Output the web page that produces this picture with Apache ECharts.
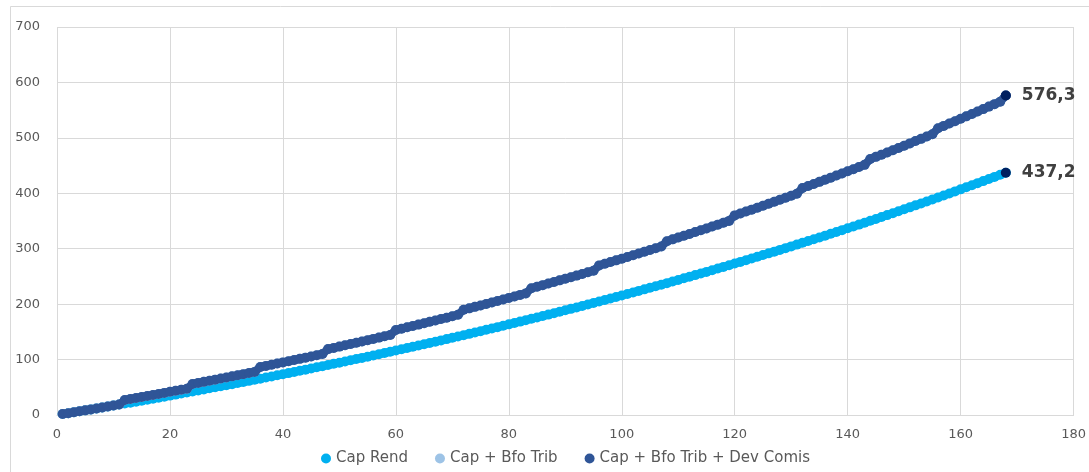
<!DOCTYPE html>
<html>
<head>
<meta charset="utf-8">
<script src="https://cdn.jsdelivr.net/npm/echarts@6/dist/echarts.min.js"></script>
<style>html,body{margin:0;padding:0;background:#fff}#c{width:1089px;height:472px}</style>
</head>
<body>
<div id="c"></div>
<script>
// month index (x)
const months = Array.from({length: 168}, (_, i) => i + 1);

const capRend = [
1.7,3.3,5.0,6.7,8.4,10.1,11.8,13.6,15.3,17.1,18.8,20.6,
22.3,24.1,25.9,27.7,29.5,31.3,33.1,35.0,36.8,38.7,40.5,42.4,
44.3,46.2,48.1,50.0,51.9,53.8,55.7,57.7,59.6,61.6,63.6,65.6,
67.6,69.6,71.6,73.6,75.6,77.7,79.7,81.8,83.9,86.0,88.1,90.2,
92.3,94.4,96.6,98.7,100.9,103.0,105.2,107.4,109.6,111.8,114.1,116.3,
118.5,120.8,123.1,125.4,127.6,130.0,132.3,134.6,136.9,139.3,141.7,144.0,
146.4,148.8,151.2,153.7,156.1,158.5,161.0,163.5,166.0,168.5,171.0,173.5,
176.0,178.6,181.1,183.7,186.3,188.9,191.5,194.1,196.8,199.4,202.1,204.8,
207.4,210.1,212.9,215.6,218.3,221.1,223.9,226.7,229.5,232.3,235.1,237.9,
240.8,243.7,246.6,249.5,252.4,255.3,258.2,261.2,264.2,267.2,270.2,273.2,
276.2,279.3,282.3,285.4,288.5,291.6,294.7,297.9,301.0,304.2,307.4,310.6,
313.8,317.1,320.3,323.6,326.9,330.2,333.5,336.8,340.2,343.5,346.9,350.3,
353.7,357.2,360.6,364.1,367.6,371.1,374.6,378.2,381.7,385.3,388.9,392.5,
396.1,399.7,403.4,407.1,410.8,414.5,418.3,422.0,425.8,429.6,433.4,437.2
];

const capBfoTribDevComis = [
1.7,3.3,5.0,6.7,8.4,10.1,11.8,13.6,15.3,17.1,18.8,27.1,
28.9,30.7,32.5,34.4,36.2,38.0,39.9,41.8,43.6,45.6,47.4,55.9,
57.9,59.8,61.8,63.8,65.7,67.7,69.7,71.7,73.7,75.8,77.8,86.5,
88.6,90.7,92.8,94.9,97.0,99.2,101.3,103.5,105.7,107.9,110.1,118.9,
121.1,123.4,125.7,128.0,130.3,132.6,134.9,137.3,139.6,142.0,144.4,153.3,
155.7,158.2,160.7,163.1,165.5,168.1,170.6,173.1,175.6,178.2,180.8,189.8,
192.4,195.1,197.7,200.4,203.1,205.7,208.4,211.2,213.9,216.7,219.4,228.7,
231.5,234.3,237.1,240.0,242.9,245.8,248.6,251.5,254.5,257.4,260.4,269.9,
272.9,275.9,279.0,282.0,285.1,288.2,291.3,294.5,297.6,300.8,303.9,313.6,
316.9,320.1,323.4,326.7,330.0,333.3,336.6,340.0,343.4,346.8,350.2,360.1,
363.5,367.1,370.5,374.0,377.6,381.1,384.7,388.3,391.9,395.5,399.2,409.4,
413.1,416.9,420.6,424.4,428.2,432.0,435.8,439.6,443.5,447.3,451.3,461.7,
465.7,469.7,473.7,477.8,481.8,485.9,490.0,494.2,498.2,502.4,506.6,517.3,
521.6,525.8,530.1,534.5,538.8,543.1,547.6,551.9,556.4,560.8,565.3,576.3
];

// Hidden under the dark series in the reference (not visible separately)
const capBfoTrib = capBfoTribDevComis;

const xTicks = [0,20,40,60,80,100,120,140,160,180];
const yTicks = [0,100,200,300,400,500,600,700];

const names = ['Cap Rend','Cap + Bfo Trib','Cap + Bfo Trib + Dev Comis'];
const colors = ['#00B0F0','#9DC3E6','#2F5597'];

const pair = arr => months.map((m, i) => [m, arr[i]]);
const last = months.length - 1;

const FONT = 'DejaVu Sans';
const band = (name, arr, color, z) => ({
  name, type: 'line', data: pair(arr), z,
  symbol: 'circle', symbolSize: 10, showSymbol: true, showAllSymbol: true,
  itemStyle: {color, opacity: 1},
  lineStyle: {color, width: 8, cap: 'round', join: 'round'},
  emphasis: {disabled: true}
});

const chart = echarts.init(document.getElementById('c'), null, {renderer: 'canvas'});
chart.setOption({
  animation: false,
  backgroundColor: '#fff',
  graphic: [{
    type: 'rect', silent: true, z: -10,
    shape: {x: 10.5, y: 6.5, width: 1200, height: 600},
    style: {fill: 'none', stroke: '#d9d9d9', lineWidth: 1}
  }],
  grid: {left: 57, right: 15, top: 27, bottom: 57},
  legend: {
    data: names,
    bottom: 1,
    left: 316,
    icon: 'circle',
    itemWidth: 10, itemHeight: 10,
    itemGap: 27,
    textStyle: {fontFamily: FONT, fontSize: 15, color: '#595959'}
  },
  xAxis: {
    type: 'value', min: 0, max: 180, interval: 20,
    axisLine: {show: true, lineStyle: {color: '#d9d9d9'}},
    axisTick: {show: false},
    splitLine: {show: true, lineStyle: {color: '#d9d9d9'}},
    axisLabel: {fontFamily: FONT, fontSize: 13, color: '#595959', margin: 13,
      formatter: v => xTicks.includes(v) ? String(v) : ''}
  },
  yAxis: {
    type: 'value', min: 0, max: 700, interval: 100,
    axisLine: {show: false},
    axisTick: {show: false},
    splitLine: {show: true, lineStyle: {color: '#d9d9d9'}},
    axisLabel: {fontFamily: FONT, fontSize: 13, color: '#595959', margin: 17,
      formatter: v => yTicks.includes(v) ? String(v) : ''}
  },
  series: [
    band(names[0], capRend, colors[0], 2),
    band(names[1], capBfoTrib, colors[1], 3),
    band(names[2], capBfoTribDevComis, colors[2], 4),
    {name: 'end', type: 'scatter', z: 10, symbolSize: 10,
      itemStyle: {color: '#002060', opacity: 1},
      data: [
        [months[last], capBfoTribDevComis[last]],
        [months[last], capRend[last]]
      ],
      label: {show: true, position: 'right', distance: 11,
        fontFamily: FONT, fontSize: 17, fontWeight: 'bold', color: '#404040',
        formatter: p => p.value[1].toFixed(1).replace('.', ',')}
    }
  ]
});
</script>
</body>
</html>
